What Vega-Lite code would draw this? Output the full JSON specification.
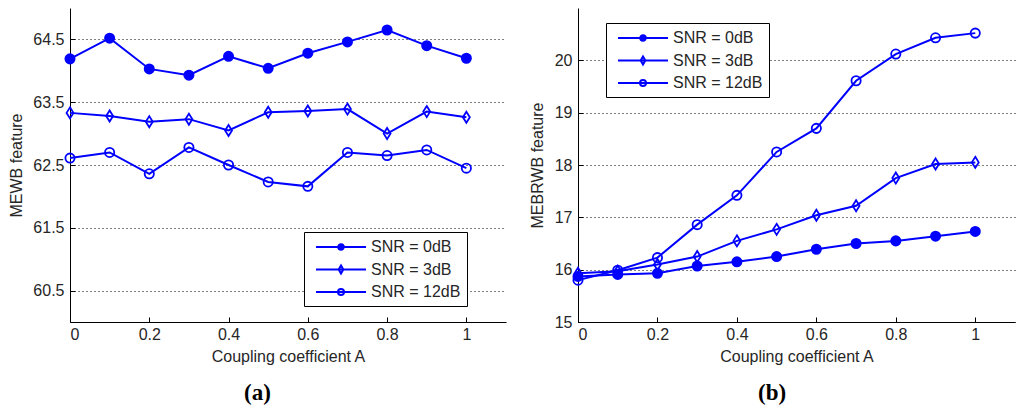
{
  "$schema": "https://vega.github.io/schema/vega-lite/v6.json",
  "padding": {"left": 8, "top": 8, "right": 6, "bottom": 0},
  "datasets": {
    "a": [
      {"A": 0.0, "snr": "SNR = 0dB", "v": 64.19},
      {"A": 0.1, "snr": "SNR = 0dB", "v": 64.52},
      {"A": 0.2, "snr": "SNR = 0dB", "v": 64.03},
      {"A": 0.3, "snr": "SNR = 0dB", "v": 63.93},
      {"A": 0.4, "snr": "SNR = 0dB", "v": 64.23},
      {"A": 0.5, "snr": "SNR = 0dB", "v": 64.04},
      {"A": 0.6, "snr": "SNR = 0dB", "v": 64.28},
      {"A": 0.7, "snr": "SNR = 0dB", "v": 64.46},
      {"A": 0.8, "snr": "SNR = 0dB", "v": 64.65},
      {"A": 0.9, "snr": "SNR = 0dB", "v": 64.4},
      {"A": 1.0, "snr": "SNR = 0dB", "v": 64.2},
      {"A": 0.0, "snr": "SNR = 3dB", "v": 63.33},
      {"A": 0.1, "snr": "SNR = 3dB", "v": 63.28},
      {"A": 0.2, "snr": "SNR = 3dB", "v": 63.19},
      {"A": 0.3, "snr": "SNR = 3dB", "v": 63.23},
      {"A": 0.4, "snr": "SNR = 3dB", "v": 63.05},
      {"A": 0.5, "snr": "SNR = 3dB", "v": 63.34},
      {"A": 0.6, "snr": "SNR = 3dB", "v": 63.36},
      {"A": 0.7, "snr": "SNR = 3dB", "v": 63.39},
      {"A": 0.8, "snr": "SNR = 3dB", "v": 63.0},
      {"A": 0.9, "snr": "SNR = 3dB", "v": 63.35},
      {"A": 1.0, "snr": "SNR = 3dB", "v": 63.26},
      {"A": 0.0, "snr": "SNR = 12dB", "v": 62.61},
      {"A": 0.1, "snr": "SNR = 12dB", "v": 62.7},
      {"A": 0.2, "snr": "SNR = 12dB", "v": 62.36},
      {"A": 0.3, "snr": "SNR = 12dB", "v": 62.78},
      {"A": 0.4, "snr": "SNR = 12dB", "v": 62.5},
      {"A": 0.5, "snr": "SNR = 12dB", "v": 62.23},
      {"A": 0.6, "snr": "SNR = 12dB", "v": 62.16},
      {"A": 0.7, "snr": "SNR = 12dB", "v": 62.7},
      {"A": 0.8, "snr": "SNR = 12dB", "v": 62.65},
      {"A": 0.9, "snr": "SNR = 12dB", "v": 62.74},
      {"A": 1.0, "snr": "SNR = 12dB", "v": 62.45}
    ],
    "b": [
      {"A": 0.0, "snr": "SNR = 0dB", "v": 15.87},
      {"A": 0.1, "snr": "SNR = 0dB", "v": 15.91},
      {"A": 0.2, "snr": "SNR = 0dB", "v": 15.93},
      {"A": 0.3, "snr": "SNR = 0dB", "v": 16.07},
      {"A": 0.4, "snr": "SNR = 0dB", "v": 16.15},
      {"A": 0.5, "snr": "SNR = 0dB", "v": 16.25},
      {"A": 0.6, "snr": "SNR = 0dB", "v": 16.39},
      {"A": 0.7, "snr": "SNR = 0dB", "v": 16.5},
      {"A": 0.8, "snr": "SNR = 0dB", "v": 16.55},
      {"A": 0.9, "snr": "SNR = 0dB", "v": 16.64},
      {"A": 1.0, "snr": "SNR = 0dB", "v": 16.73},
      {"A": 0.0, "snr": "SNR = 3dB", "v": 15.93},
      {"A": 0.1, "snr": "SNR = 3dB", "v": 15.97},
      {"A": 0.2, "snr": "SNR = 3dB", "v": 16.1},
      {"A": 0.3, "snr": "SNR = 3dB", "v": 16.25},
      {"A": 0.4, "snr": "SNR = 3dB", "v": 16.55},
      {"A": 0.5, "snr": "SNR = 3dB", "v": 16.77},
      {"A": 0.6, "snr": "SNR = 3dB", "v": 17.04},
      {"A": 0.7, "snr": "SNR = 3dB", "v": 17.22},
      {"A": 0.8, "snr": "SNR = 3dB", "v": 17.75},
      {"A": 0.9, "snr": "SNR = 3dB", "v": 18.02},
      {"A": 1.0, "snr": "SNR = 3dB", "v": 18.05},
      {"A": 0.0, "snr": "SNR = 12dB", "v": 15.8},
      {"A": 0.1, "snr": "SNR = 12dB", "v": 15.99},
      {"A": 0.2, "snr": "SNR = 12dB", "v": 16.23},
      {"A": 0.3, "snr": "SNR = 12dB", "v": 16.86},
      {"A": 0.4, "snr": "SNR = 12dB", "v": 17.42},
      {"A": 0.5, "snr": "SNR = 12dB", "v": 18.25},
      {"A": 0.6, "snr": "SNR = 12dB", "v": 18.7},
      {"A": 0.7, "snr": "SNR = 12dB", "v": 19.61},
      {"A": 0.8, "snr": "SNR = 12dB", "v": 20.12},
      {"A": 0.9, "snr": "SNR = 12dB", "v": 20.43},
      {"A": 1.0, "snr": "SNR = 12dB", "v": 20.52}
    ]
  },
  "spacing": 23,
  "hconcat": [
    {
      "width": 436,
      "height": 314,
      "data": {"name": "a"},
      "title": {"text": "(a)", "orient": "bottom", "frame": "bounds", "anchor": "middle", "offset": 18},
      "encoding": {
        "x": {
          "field": "A", "type": "quantitative",
          "title": "Coupling coefficient A",
          "scale": {"domain": [0, 1.1], "nice": false},
          "axis": {"values": [0, 0.2, 0.4, 0.6, 0.8, 1], "format": "~g"}
        },
        "y": {
          "field": "v", "type": "quantitative",
          "title": "MEWB feature",
          "scale": {"domain": [60, 65], "nice": false, "zero": false},
          "axis": {"values": [60.5, 61.5, 62.5, 63.5, 64.5], "format": ".1f", "titlePadding": 8}
        }
      },
      "layer": [
        {
          "mark": {"type": "line", "color": "#0000ff", "strokeWidth": 2},
          "encoding": {"detail": {"field": "snr"}}
        },
        {
          "mark": {"type": "point", "size": 85, "strokeWidth": 1.8, "stroke": "#0000ff", "filled": false, "opacity": 1},
          "encoding": {
            "shape": {
              "field": "snr", "type": "nominal",
              "scale": {"domain": ["SNR = 0dB", "SNR = 3dB", "SNR = 12dB"], "range": ["circle", "M0,-1.2L0.75,0L0,1.2L-0.75,0Z", "circle"]},
              "legend": null
            },
            "fill": {
              "field": "snr", "type": "nominal",
              "scale": {"domain": ["SNR = 0dB", "SNR = 3dB", "SNR = 12dB"], "range": ["#0000ff", "transparent", "transparent"]},
              "legend": null
            }
          }
        },
        {
          "transform": [{"filter": "false"}],
          "mark": {"type": "point", "filled": false, "strokeWidth": 2},
          "encoding": {
            "shape": {
              "field": "snr", "type": "nominal",
              "scale": {"domain": ["SNR = 0dB", "SNR = 3dB", "SNR = 12dB"], "range": [
                "M-0.375,0H5.875M2.41,0A0.34,0.34 0 1,1 3.09,0A0.34,0.34 0 1,1 2.41,0Z",
                "M-0.375,0H5.875M2.75,-0.5L3.04,0L2.75,0.5L2.46,0Z",
                "M-0.375,0H5.875M2.375,0A0.375,0.375 0 1,1 3.125,0A0.375,0.375 0 1,1 2.375,0Z"
              ]},
              "legend": {"orient": "none", "legendX": 234, "legendY": 224}
            },
            "fill": {
              "field": "snr", "type": "nominal",
              "scale": {"domain": ["SNR = 0dB", "SNR = 3dB", "SNR = 12dB"], "range": ["#0000ff", "transparent", "transparent"]},
              "legend": {"orient": "none", "legendX": 234, "legendY": 224}
            },
            "stroke": {
              "field": "snr", "type": "nominal",
              "scale": {"domain": ["SNR = 0dB", "SNR = 3dB", "SNR = 12dB"], "range": ["#0000ff", "#0000ff", "#0000ff"]},
              "legend": {"orient": "none", "legendX": 234, "legendY": 224}
            }
          }
        }
      ],
      "resolve": {
        "scale": {"shape": "independent", "fill": "independent", "stroke": "independent"},
        "legend": {"shape": "independent", "fill": "independent", "stroke": "independent"}
      }
    },
    {
      "width": 437,
      "height": 314,
      "data": {"name": "b"},
      "title": {"text": "(b)", "orient": "bottom", "frame": "bounds", "anchor": "middle", "offset": 18},
      "encoding": {
        "x": {
          "field": "A", "type": "quantitative",
          "title": "Coupling coefficient A",
          "scale": {"domain": [0, 1.1], "nice": false},
          "axis": {"values": [0, 0.2, 0.4, 0.6, 0.8, 1], "format": "~g"}
        },
        "y": {
          "field": "v", "type": "quantitative",
          "title": "MEBRWB feature",
          "scale": {"domain": [15, 21], "nice": false, "zero": false},
          "axis": {"values": [15, 16, 17, 18, 19, 20], "format": "d", "titlePadding": 9}
        }
      },
      "layer": [
        {
          "mark": {"type": "line", "color": "#0000ff", "strokeWidth": 2},
          "encoding": {"detail": {"field": "snr"}}
        },
        {
          "mark": {"type": "point", "size": 85, "strokeWidth": 1.8, "stroke": "#0000ff", "filled": false, "opacity": 1},
          "encoding": {
            "shape": {
              "field": "snr", "type": "nominal",
              "scale": {"domain": ["SNR = 0dB", "SNR = 3dB", "SNR = 12dB"], "range": ["circle", "M0,-1.2L0.75,0L0,1.2L-0.75,0Z", "circle"]},
              "legend": null
            },
            "fill": {
              "field": "snr", "type": "nominal",
              "scale": {"domain": ["SNR = 0dB", "SNR = 3dB", "SNR = 12dB"], "range": ["#0000ff", "transparent", "transparent"]},
              "legend": null
            }
          }
        },
        {
          "transform": [{"filter": "false"}],
          "mark": {"type": "point", "filled": false, "strokeWidth": 2},
          "encoding": {
            "shape": {
              "field": "snr", "type": "nominal",
              "scale": {"domain": ["SNR = 0dB", "SNR = 3dB", "SNR = 12dB"], "range": [
                "M-0.375,0H5.875M2.41,0A0.34,0.34 0 1,1 3.09,0A0.34,0.34 0 1,1 2.41,0Z",
                "M-0.375,0H5.875M2.75,-0.5L3.04,0L2.75,0.5L2.46,0Z",
                "M-0.375,0H5.875M2.375,0A0.375,0.375 0 1,1 3.125,0A0.375,0.375 0 1,1 2.375,0Z"
              ]},
              "legend": {"orient": "none", "legendX": 28, "legendY": 15}
            },
            "fill": {
              "field": "snr", "type": "nominal",
              "scale": {"domain": ["SNR = 0dB", "SNR = 3dB", "SNR = 12dB"], "range": ["#0000ff", "transparent", "transparent"]},
              "legend": {"orient": "none", "legendX": 28, "legendY": 15}
            },
            "stroke": {
              "field": "snr", "type": "nominal",
              "scale": {"domain": ["SNR = 0dB", "SNR = 3dB", "SNR = 12dB"], "range": ["#0000ff", "#0000ff", "#0000ff"]},
              "legend": {"orient": "none", "legendX": 28, "legendY": 15}
            }
          }
        }
      ],
      "resolve": {
        "scale": {"shape": "independent", "fill": "independent", "stroke": "independent"},
        "legend": {"shape": "independent", "fill": "independent", "stroke": "independent"}
      }
    }
  ],
  "resolve": {
    "scale": {"shape": "independent", "fill": "independent", "stroke": "independent"},
    "legend": {"shape": "independent", "fill": "independent", "stroke": "independent"}
  },
  "config": {
    "view": {"stroke": null},
    "font": "Liberation Sans",
    "background": "white",
    "title": {"font": "Liberation Serif", "fontSize": 23, "fontWeight": "bold", "color": "black"},
    "axis": {
      "labelFont": "Liberation Sans",
      "labelFontSize": 16,
      "labelColor": "#262626",
      "titleFont": "Liberation Sans",
      "titleFontSize": 16,
      "titleFontWeight": "normal",
      "titleColor": "#262626",
      "domainColor": "black",
      "domainWidth": 1,
      "tickColor": "black",
      "tickSize": -5,
      "gridColor": "black",
      "gridDash": [1, 3],
      "gridOpacity": 1
    },
    "axisX": {"grid": false, "labelPadding": 9, "titlePadding": 6},
    "axisY": {"grid": true, "labelPadding": 11},
    "legend": {
      "title": null,
      "strokeColor": "black",
      "fillColor": "white",
      "padding": 6,
      "symbolSize": 256,
      "symbolStrokeWidth": 2,
      "symbolOpacity": 1,
      "labelOffset": 43,
      "labelFont": "Liberation Sans",
      "labelFontSize": 16,
      "labelColor": "#262626",
      "rowPadding": 5.5
    }
  }
}
